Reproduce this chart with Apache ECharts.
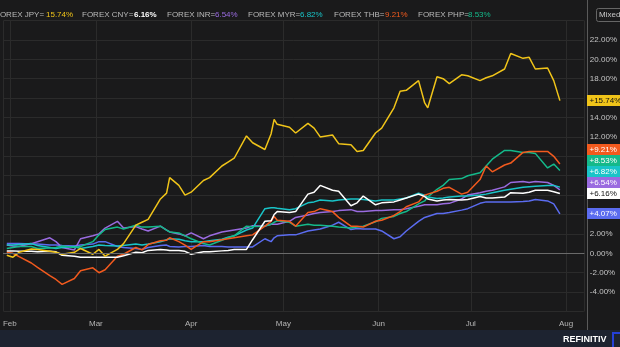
<!DOCTYPE html>
<html>
<head>
<meta charset="utf-8">
<script src="https://cdn.jsdelivr.net/npm/echarts@6/dist/echarts.min.js"></script>
<style>
html,body{margin:0;padding:0;background:#1a1a1b;}
#c{width:620px;height:347px;}
</style>
</head>
<body>
<div id="c"></div>
<script>
// ---- data (2022, % change) ----
const dates = ['2022-01-31','2022-02-02','2022-02-04','2022-02-08','2022-02-10','2022-02-14','2022-02-16','2022-02-18','2022-02-22','2022-02-24','2022-02-28',
'2022-03-02','2022-03-04','2022-03-08','2022-03-10','2022-03-14','2022-03-16','2022-03-18','2022-03-22','2022-03-24','2022-03-25','2022-03-28','2022-03-30',
'2022-04-01','2022-04-05','2022-04-07','2022-04-11','2022-04-13','2022-04-15','2022-04-19','2022-04-21','2022-04-25','2022-04-27','2022-04-28','2022-04-29',
'2022-05-03','2022-05-05','2022-05-09','2022-05-11','2022-05-13','2022-05-17','2022-05-19','2022-05-23','2022-05-25','2022-05-27','2022-05-31',
'2022-06-02','2022-06-06','2022-06-08','2022-06-10','2022-06-14','2022-06-16','2022-06-17','2022-06-20','2022-06-22','2022-06-24','2022-06-28','2022-06-30',
'2022-07-04','2022-07-06','2022-07-08','2022-07-12','2022-07-14','2022-07-18','2022-07-20','2022-07-22','2022-07-26','2022-07-28','2022-07-30'];

const jpy = [-0.2,-0.4,0.1,0.45,0.4,0.2,0.1,-0.1,0.1,0.5,-0.1,
0.4,-0.3,0.4,1.0,2.9,3.2,3.5,5.6,6.2,7.8,7.0,6.0,
6.3,7.5,7.8,9.0,9.4,9.8,12.1,11.4,10.7,12.3,13.8,13.3,
13.0,12.4,13.4,12.9,12.0,12.2,11.3,11.2,10.5,10.6,12.4,
12.9,15.0,16.7,16.8,17.8,15.5,15.0,18.2,18.0,17.5,18.4,18.3,
17.8,18.1,18.3,19.0,20.6,20.1,20.2,19.0,19.1,17.8,15.74];

const cny = [0.25,0.25,0.2,0.2,0.15,0.2,0.15,-0.2,-0.3,-0.4,-0.4,
-0.4,-0.4,-0.4,-0.25,0.1,0.05,0.3,0.4,0.35,0.3,0.3,0.2,
-0.1,0.15,0.15,0.25,0.3,0.4,0.4,1.4,3.3,3.35,4.0,4.3,
4.2,4.3,6.1,6.3,7.0,6.5,6.4,4.9,5.2,5.9,5.0,
5.2,5.3,5.5,5.7,6.1,5.85,5.6,5.4,5.5,5.55,5.5,5.55,
5.85,5.7,5.7,5.8,6.25,6.2,6.3,6.5,6.5,6.35,6.16];

const inr = [0.85,0.75,0.7,1.0,1.2,1.6,1.2,0.6,0.35,1.5,1.8,
2.0,2.6,3.3,2.6,2.75,2.5,2.3,2.8,2.4,2.2,2.0,1.8,
2.1,1.5,1.8,2.2,2.3,2.4,2.6,2.85,2.8,3.0,3.0,3.0,
3.3,3.7,3.95,4.1,4.2,4.3,4.4,4.5,4.3,4.3,4.4,
4.4,4.5,4.5,4.6,4.85,5.0,5.0,5.0,5.1,5.15,5.6,6.0,
6.25,6.4,6.5,6.85,7.3,7.4,7.3,7.4,7.3,7.0,6.54];

const myr = [0.85,0.85,0.9,1.0,0.8,0.6,0.5,0.6,0.7,0.5,0.7,
0.85,0.8,0.75,0.8,0.95,0.85,0.95,1.2,1.4,1.5,1.45,1.3,
1.2,1.2,1.3,1.45,1.65,1.8,2.4,2.6,4.6,4.7,4.7,4.65,
4.5,4.6,5.2,5.3,5.5,5.4,5.5,5.6,5.6,5.55,5.4,
5.5,5.5,5.6,5.7,6.2,6.0,5.8,5.65,5.7,5.8,5.9,5.9,
6.0,6.1,6.25,6.5,6.6,6.8,6.85,6.9,7.0,7.0,6.82];

const thb = [0.1,0.0,-0.35,-1.0,-1.45,-2.3,-2.7,-3.2,-2.6,-1.8,-1.5,
-2.0,-1.7,-0.3,-0.1,0.6,0.35,0.9,1.3,1.35,1.6,1.2,0.85,
0.4,1.2,1.2,1.4,1.5,1.6,1.8,1.9,2.8,3.3,3.8,3.4,
3.3,2.8,4.2,4.3,4.6,4.3,3.7,2.8,2.8,2.7,3.3,
3.4,3.9,4.3,4.8,5.3,6.0,6.1,6.4,6.7,6.8,6.1,6.3,
7.6,9.0,8.4,9.1,9.3,10.4,10.5,10.5,10.5,10.0,9.21];

const php = [0.5,0.6,0.7,0.7,0.5,0.55,0.6,0.75,0.6,0.7,1.2,
1.9,2.45,2.7,2.5,2.9,2.7,2.7,2.8,2.4,2.2,2.1,1.8,
1.5,1.0,0.85,1.35,1.6,1.8,2.8,2.75,2.8,3.0,3.2,3.35,
3.2,2.8,3.0,2.9,2.9,2.8,2.7,2.6,2.7,2.8,3.25,
3.6,3.8,4.1,4.3,5.1,5.4,5.8,6.6,7.0,7.6,7.7,8.0,
8.3,9.0,9.7,10.6,10.6,10.4,10.4,10.3,8.8,9.2,8.53];

const idr = [1.0,1.0,1.0,0.95,0.95,0.85,0.85,0.8,0.75,0.85,0.95,
1.2,1.2,0.7,0.6,0.5,0.4,0.6,0.8,0.85,0.7,0.65,0.7,
0.7,0.8,0.7,0.7,0.65,0.65,0.65,0.65,1.5,1.2,1.6,1.8,
1.9,1.9,2.3,2.4,2.5,2.9,3.2,2.45,2.55,2.5,2.5,
2.3,1.5,1.7,2.3,3.3,3.7,3.8,4.1,4.1,4.2,4.45,4.6,
5.15,5.3,5.3,5.3,5.3,5.35,5.4,5.55,5.4,5.1,4.07];

const yTicks = {min: -6, max: 24, step: 2};
const monthLabelFmt = '{MMM}';

const seriesDefs = [
  {name: 'FOREX IDR=', data: idr, color: '#5b6cf0', tagText: '#ffffff'},
  {name: 'FOREX INR=', data: inr, color: '#9a6be0', tagText: '#ffffff'},
  {name: 'FOREX MYR=', data: myr, color: '#19c4c8', tagText: '#ffffff'},
  {name: 'FOREX PHP=', data: php, color: '#14b98a', tagText: '#ffffff'},
  {name: 'FOREX THB=', data: thb, color: '#f25a1e', tagText: '#ffffff'},
  {name: 'FOREX CNY=', data: cny, color: '#ffffff', tagText: '#111111'},
  {name: 'FOREX JPY=', data: jpy, color: '#f0c419', tagText: '#111111'}
];
const legendOrder = ['FOREX JPY=','FOREX CNY=','FOREX INR=','FOREX MYR=','FOREX THB=','FOREX PHP='];

const chart = echarts.init(document.getElementById('c'), null, {renderer: 'canvas'});
const FONT = 'Liberation Sans, Arial, sans-serif';
const t0 = +new Date(2022, 0, 30);

chart.setOption({
  backgroundColor: '#1a1a1b',
  animation: false,
  grid: {left: 0, right: 33, top: 20.5, bottom: 35.5, containLabel: false},
  xAxis: {
    type: 'time',
    min: t0,
    max: t0 + 188.8 * 864e5,
    minInterval: 28 * 864e5,
    axisLine: {show: true, lineStyle: {color: '#8a8a8a', width: 1}},
    axisTick: {show: false},
    axisLabel: {color: '#b5b5b5', fontSize: 8, fontFamily: FONT, margin: 8, formatter: monthLabelFmt, hideOverlap: false},
    splitLine: {show: true, lineStyle: {color: '#2b2b2b', width: 1}}
  },
  yAxis: {
    type: 'value',
    position: 'right',
    min: yTicks.min, max: yTicks.max, interval: yTicks.step,
    axisLine: {show: false},
    axisTick: {show: false},
    axisLabel: {color: '#c4c4c4', fontSize: 8, fontFamily: FONT, margin: 6, showMinLabel: false, showMaxLabel: false,
      formatter: v => v.toFixed(2) + '%'},
    splitLine: {show: true, lineStyle: {color: '#2b2b2b', width: 1}}
  },
  series: seriesDefs.map(s => ({
    name: s.name, type: 'line', showSymbol: false, symbol: 'none',
    lineStyle: {color: s.color, width: 1.5}, itemStyle: {color: s.color},
    data: dates.map((d, i) => [d, s.data[i]]),
    z: 3
  })).concat([{
    type: 'line', data: [], silent: true,
    markLine: {silent: true, symbol: 'none', label: {show: false},
      lineStyle: {color: '#6a6a6a', type: 'solid', width: 1}, data: [{yAxis: 0}]}
  }])
});

// ---- end-value tags & header (computed from data through the axis scale) ----
const graphics = [];
const ends = seriesDefs.map(s => {
  const v = s.data[s.data.length - 1];
  return {s, v, y: chart.convertToPixel({yAxisIndex: 0}, v)};
}).sort((a, b) => b.y - a.y); // bottom first
const TAG_H = 11;
let prevTop = Infinity;
ends.forEach(e => {
  const cy = Math.min(e.y, prevTop - TAG_H);
  prevTop = cy;
  e.cy = cy;
});
ends.forEach(e => {
  graphics.push({type: 'rect', shape: {x: 587, y: Math.round(e.cy - TAG_H / 2), width: 40, height: TAG_H},
    style: {fill: e.s.color}, z: 20});
  graphics.push({type: 'text', x: 589.5, y: e.cy, z: 21,
    style: {text: '+' + e.v.toFixed(2) + '%', fill: e.s.tagText, font: '8px ' + FONT, textVerticalAlign: 'middle', verticalAlign: 'middle'}});
});

// separator line on right of plot
graphics.push({type: 'line', shape: {x1: 587.5, y1: 0, x2: 587.5, y2: 330}, style: {stroke: '#5a5a5a', lineWidth: 1}, z: 15});
// footer band
graphics.push({type: 'rect', shape: {x: 0, y: 330, width: 620, height: 17}, style: {fill: '#1d2330'}, z: 10});
graphics.push({type: 'text', x: 563, y: 339.5, z: 11,
  style: {text: 'REFINITIV', fill: '#ffffff', font: 'bold 9px ' + FONT, verticalAlign: 'middle', textVerticalAlign: 'middle'}});
graphics.push({type: 'rect', shape: {x: 613, y: 333, width: 10, height: 16}, style: {fill: 'none', stroke: '#2440d8', lineWidth: 2}, z: 11});
// header: "Mixed" box
graphics.push({type: 'rect', shape: {x: 596.5, y: 8.5, width: 26, height: 13, r: 2}, style: {fill: 'none', stroke: '#666', lineWidth: 1}, z: 11});
graphics.push({type: 'text', x: 599, y: 15, z: 12,
  style: {text: 'Mixed', fill: '#c8c8c8', font: '8px ' + FONT, verticalAlign: 'middle', textVerticalAlign: 'middle'}});

// header legend (label start / value start)
const legendLabelX = [-5, 82, 167, 248, 334, 418];
const legendValueX = [46, 134, 215, 300, 385, 468];
legendOrder.forEach((nm, i) => {
  const s = seriesDefs.find(d => d.name === nm);
  const v = s.data[s.data.length - 1];
  graphics.push({type: 'text', x: legendLabelX[i], y: 14.5, z: 12,
    style: {text: nm, fill: '#b9b9b9', font: '8px ' + FONT, verticalAlign: 'middle', textVerticalAlign: 'middle'}});
  graphics.push({type: 'text', x: legendValueX[i], y: 14.5, z: 12,
    style: {text: v.toFixed(2) + '%', fill: s.color, font: (nm === 'FOREX CNY=' ? 'bold ' : '') + '8px ' + FONT, verticalAlign: 'middle', textVerticalAlign: 'middle'}});
});

chart.setOption({graphic: graphics});
</script>
</body>
</html>
